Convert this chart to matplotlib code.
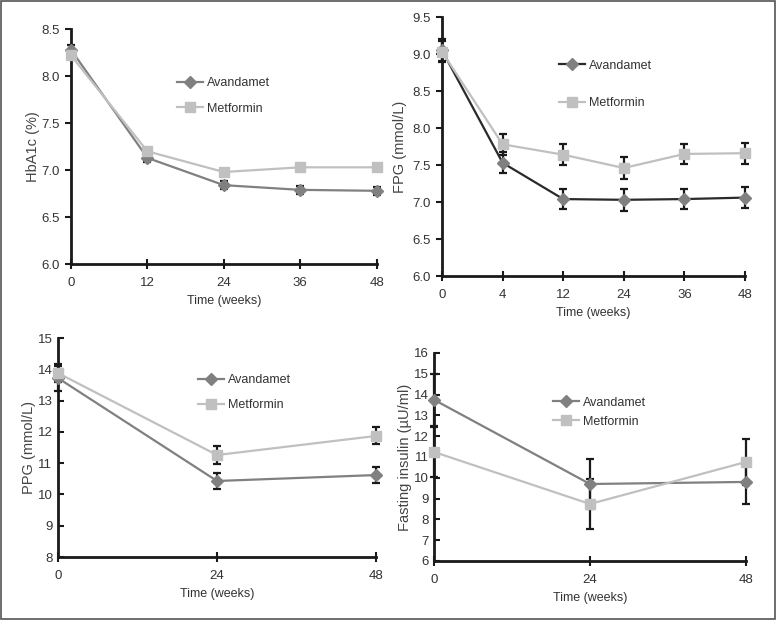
import matplotlib
matplotlib.use("Agg")
import matplotlib.pyplot as plt
from matplotlib.patches import Rectangle

plt.rcParams['font.family'] = ['Liberation Sans', 'DejaVu Sans']
plt.rcParams['font.size'] = 9.5

# HbA1c
hba_weeks = [0, 12, 24, 36, 48]
hba_avan = [8.28, 7.13, 6.84, 6.79, 6.78]
hba_avan_err = [0.05, 0.04, 0.04, 0.04, 0.04]
hba_met = [8.22, 7.20, 6.98, 7.03, 7.03]
hba_met_err = [0.04, 0.03, 0.03, 0.03, 0.03]

# FPG (categorical weeks)
fpg_weeks = ['0', '4', '12', '24', '36', '48']
fpg_avan = [9.05, 7.53, 7.04, 7.03, 7.04, 7.06]
fpg_avan_err = [0.15, 0.14, 0.14, 0.15, 0.14, 0.14]
fpg_met = [9.03, 7.78, 7.64, 7.46, 7.65, 7.66]
fpg_met_err = [0.14, 0.14, 0.14, 0.15, 0.14, 0.14]

# PPG
ppg_weeks = [0, 24, 48]
ppg_avan = [13.72, 10.43, 10.62]
ppg_avan_err = [0.4, 0.27, 0.27]
ppg_met = [13.88, 11.26, 11.87]
ppg_met_err = [0.3, 0.28, 0.27]

# Fasting insulin
ins_weeks = [0, 24, 48]
ins_avan = [13.75, 9.70, 9.80]
ins_avan_err = [1.25, 1.2, 1.05]
ins_met = [11.24, 8.74, 10.76]
ins_met_err = [1.2, 1.2, 1.1]

c_avan = '#808080'
c_met = '#c0c0c0'


def panel(ax, x, a, ae, m, me, ylim, yticks, yfmt, ylabel, xticks, xticklabels,
          leg_loc, leg_space, ydir='out', ypad=4, avan_line=c_avan):
    ax.errorbar(x, a, yerr=ae, fmt='none', ecolor='#1a1a1a', elinewidth=1.6,
                capsize=3, capthick=1.6, zorder=2, clip_on=False)
    ax.errorbar(x, m, yerr=me, fmt='none', ecolor='#1a1a1a', elinewidth=1.6,
                capsize=3, capthick=1.6, zorder=2, clip_on=False)
    ax.plot(x, a, '-', color=avan_line, lw=1.6, zorder=3, clip_on=False)
    ax.plot(x, a, 'D', color=c_avan, ms=6.5, zorder=4, clip_on=False)
    ax.plot(x, m, '-', color=c_met, lw=1.6, zorder=3, clip_on=False)
    ax.plot(x, m, 's', color=c_met, ms=7.5, zorder=4, clip_on=False)
    # legend handles
    ax.plot([], [], '-D', color=avan_line, mfc=c_avan, mec=c_avan, ms=6, lw=1.6,
            label='Avandamet')
    ax.plot([], [], '-s', color=c_met, ms=7, lw=1.6, label='Metformin')
    ax.set_ylim(*ylim)
    ax.set_yticks(yticks)
    ax.set_yticklabels([yfmt.format(v) for v in yticks])
    ax.set_xlim(xticks[0], xticks[-1])
    ax.set_xticks(xticks)
    ax.set_xticklabels(xticklabels)
    ax.set_ylabel(ylabel, color='#444444', fontsize=10.5, labelpad=ypad)
    ax.set_xlabel('Time (weeks)', color='#333333', fontsize=9)
    for s in ['top', 'right']:
        ax.spines[s].set_visible(False)
    for s in ['left', 'bottom']:
        ax.spines[s].set_linewidth(2)
        ax.spines[s].set_color('#1a1a1a')
    ax.tick_params(axis='y', direction=ydir, length=4, width=1.5, colors='#1a1a1a',
                   labelcolor='#333333', pad=4)
    ax.tick_params(axis='x', direction='inout', length=7, width=1.5, colors='#1a1a1a',
                   labelcolor='#333333', pad=6)
    ax.legend(loc='upper left', bbox_to_anchor=leg_loc, frameon=False,
              handlelength=2.1, handletextpad=0.3, labelspacing=leg_space,
              fontsize=9, labelcolor='#333333', borderaxespad=0)


fig = plt.figure(figsize=(7.76, 6.2), dpi=100)

ax1 = fig.add_axes([0.0915, 0.574, 0.394, 0.379])
panel(ax1, hba_weeks, hba_avan, hba_avan_err, hba_met, hba_met_err,
      (6.0, 8.5), [6.0, 6.5, 7.0, 7.5, 8.0, 8.5], '{:.1f}', 'HbA1c (%)',
      hba_weeks, [str(w) for w in hba_weeks], (0.33, 0.817), 1.08, ypad=1)

ax2 = fig.add_axes([0.5696, 0.5548, 0.3905, 0.4177])
fx = list(range(len(fpg_weeks)))
panel(ax2, fx, fpg_avan, fpg_avan_err, fpg_met, fpg_met_err,
      (6.0, 9.5), [6.0, 6.5, 7.0, 7.5, 8.0, 8.5, 9.0, 9.5], '{:.1f}', 'FPG (mmol/L)',
      fx, fpg_weeks, (0.37, 0.854), 2.04, avan_line='#2a2a2a')

ax3 = fig.add_axes([0.0747, 0.1016, 0.41, 0.3532])
panel(ax3, ppg_weeks, ppg_avan, ppg_avan_err, ppg_met, ppg_met_err,
      (8, 15), list(range(8, 16)), '{:d}', 'PPG (mmol/L)',
      ppg_weeks, [str(w) for w in ppg_weeks], (0.425, 0.859), 1.05,
      ydir='in', ypad=1)

ax4 = fig.add_axes([0.5593, 0.0952, 0.402, 0.3355])
panel(ax4, ins_weeks, ins_avan, ins_avan_err, ins_met, ins_met_err,
      (6, 16), list(range(6, 17)), '{:d}', 'Fasting insulin (\u00b5U/ml)',
      ins_weeks, [str(w) for w in ins_weeks], (0.365, 0.813), 0.55,
      ydir='in', ypad=1)

fig.patches.append(Rectangle((0.001, 0.001), 0.998, 0.998, transform=fig.transFigure,
                             fill=False, edgecolor='#555555', lw=1.2))

fig.savefig('out.png', dpi=100)
